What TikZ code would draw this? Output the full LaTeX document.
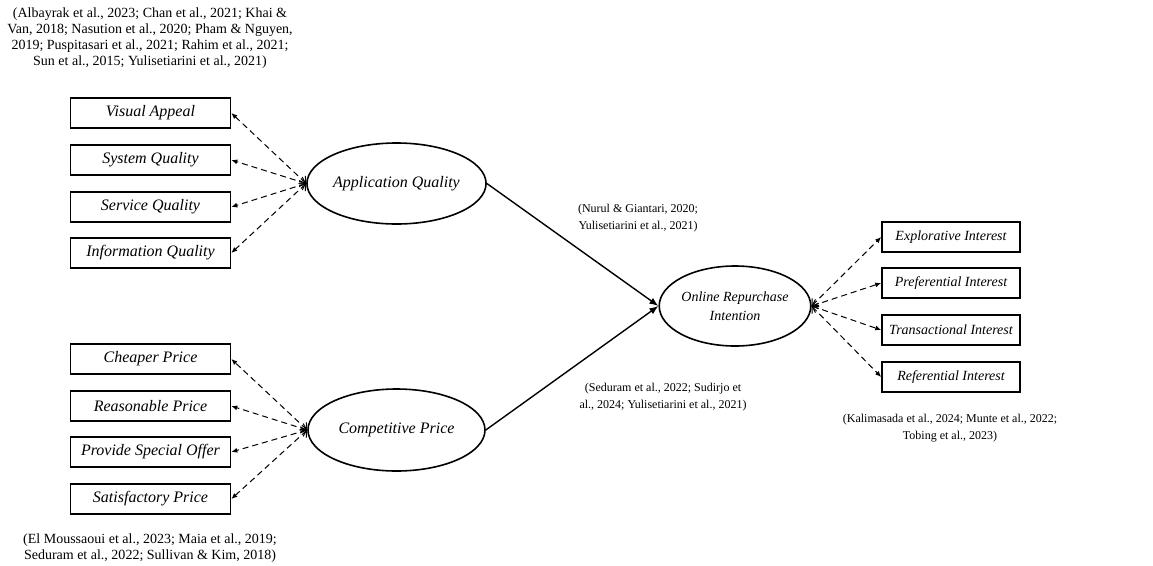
\documentclass[tikz,border=0pt]{standalone}
\usepackage{fontspec}
\setmainfont{Liberation Serif}
\usetikzlibrary{arrows.meta,shapes.geometric}

\begin{document}
\begin{tikzpicture}[x=1pt, y=-1pt,
  indicator/.style = {shape=rectangle, draw, line width=1.6pt,
    minimum width=160pt, minimum height=30pt, inner sep=0pt,
    font=\fontsize{16}{18}\selectfont\itshape},
  construct/.style = {shape=ellipse, draw, line width=1.6pt, align=center,
    inner sep=0pt, font=\fontsize{16}{19}\selectfont\itshape},
  cite/.style = {align=center, font=\fontsize{14}{16}\selectfont},
  smallcite/.style = {align=center, font=\fontsize{12}{17}\selectfont},
  loading/.style = {dashed, dash pattern=on 6pt off 4pt, line width=1pt,
    {Straight Barb[length=5pt,width=10pt]}-{Latex[length=6pt,width=5pt]}},
  effect/.style = {line width=1.4pt, -{Latex[length=9pt,width=7pt]}}]
  \useasboundingbox (0,0) rectangle (1153,565);

  % constructs
  \node[construct, minimum width=177pt, minimum height=81pt] (aq) at (396.5,183.5) {Application Quality};
  \node[construct, minimum width=177pt, minimum height=82pt] (cp) at (396.5,430) {Competitive Price};
  \node[construct, minimum width=149pt, minimum height=80pt,
    font=\fontsize{14}{19}\selectfont\itshape] (ori) at (735,306) {Online Repurchase\\Intention};

  % indicators of application quality
  \node[indicator] (va) at (150.5,113) {Visual Appeal};
  \node[indicator] (sq) at (150.5,160) {System Quality};
  \node[indicator] (svq) at (150.5,207) {Service Quality};
  \node[indicator] (iq) at (150.5,253) {Information Quality};

  % indicators of competitive price
  \node[indicator] (chp) at (150.5,359) {Cheaper Price};
  \node[indicator] (rp) at (150.5,406) {Reasonable Price};
  \node[indicator] (pso) at (150.5,452) {Provide Special Offer};
  \node[indicator] (stp) at (150.5,499) {Satisfactory Price};

  % indicators of online repurchase intention
  \node[indicator, minimum width=138pt, font=\fontsize{14}{17}\selectfont\itshape] (ei) at (951,237) {Explorative Interest};
  \node[indicator, minimum width=138pt, font=\fontsize{14}{17}\selectfont\itshape] (pi) at (951,283) {Preferential Interest};
  \node[indicator, minimum width=138pt, font=\fontsize{14}{17}\selectfont\itshape] (ti) at (951,330) {Transactional Interest};
  \node[indicator, minimum width=138pt, font=\fontsize{14}{17}\selectfont\itshape] (ri) at (951,377) {Referential Interest};

  % references
  \node[cite] (citeaq) at (150,38) {(Albayrak et al., 2023; Chan et al., 2021; Khai \&\\Van, 2018; Nasution et al., 2020; Pham \& Nguyen,\\2019; Puspitasari et al., 2021; Rahim et al., 2021;\\Sun et al., 2015; Yulisetiarini et al., 2021)};
  \node[cite] (citecp) at (150,548) {(El Moussaoui et al., 2023; Maia et al., 2019;\\Seduram et al., 2022; Sullivan \& Kim, 2018)};
  \node[smallcite] (citeh1) at (638,218) {(Nurul \& Giantari, 2020;\\Yulisetiarini et al., 2021)};
  \node[smallcite] (citeh2) at (663,397) {(Seduram et al., 2022; Sudirjo et\\al., 2024; Yulisetiarini et al., 2021)};
  \node[smallcite] (citeori) at (950,428) {(Kalimasada et al., 2024; Munte et al., 2022;\\Tobing et al., 2023)};

  % loadings
  \foreach \ind in {va,sq,svq,iq}
    \draw[loading] (aq.west) -- (\ind.east);
  \foreach \ind in {chp,rp,pso,stp}
    \draw[loading] (cp.west) -- (\ind.east);
  \foreach \ind in {ei,pi,ti,ri}
    \draw[loading] (ori.east) -- (\ind.west);

  % structural paths
  \draw[effect] (aq.east) -- (ori.west);
  \draw[effect] (cp.east) -- (ori.west);
\end{tikzpicture}
\end{document}
